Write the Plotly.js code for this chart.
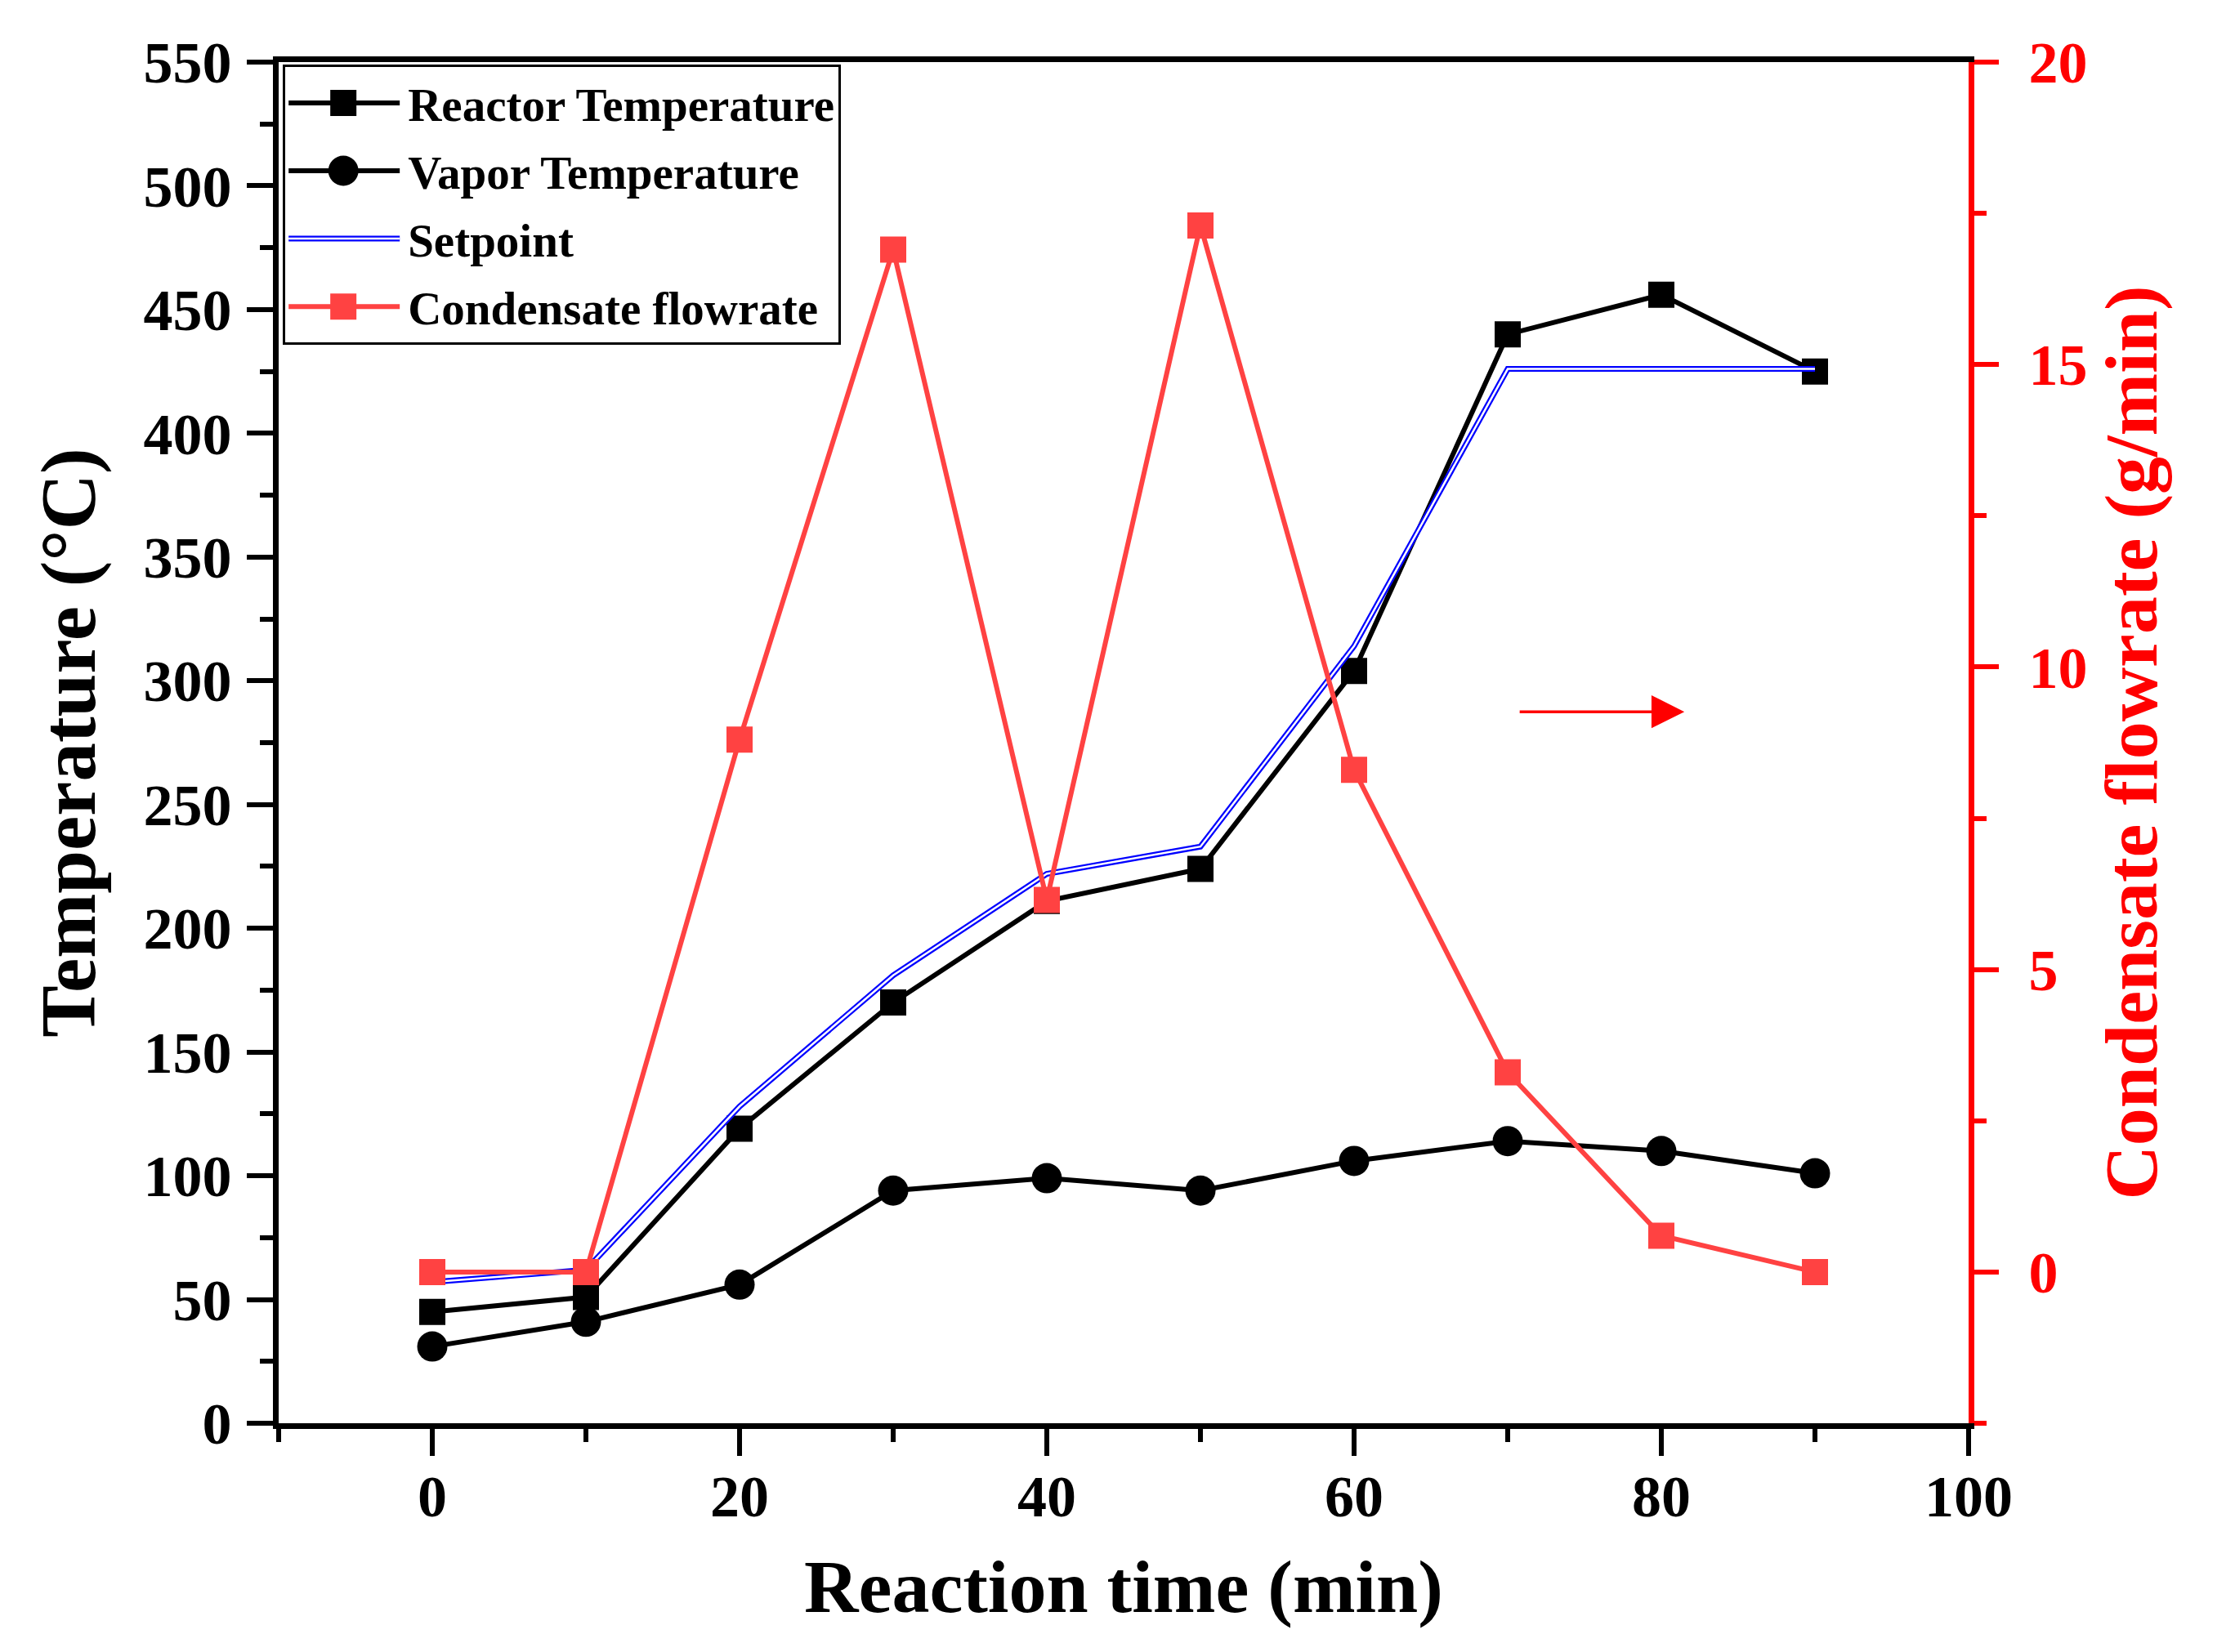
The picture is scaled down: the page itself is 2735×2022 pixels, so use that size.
<!DOCTYPE html>
<html>
<head>
<meta charset="utf-8">
<script src="https://cdn.plot.ly/plotly-3.0.1.min.js"></script>
<style>
  body { margin: 0; background: #fff; }
  #chart { width: 2735px; height: 2022px; }
</style>
</head>
<body>
<div id="chart"></div>
<script>
// reaction time (min)
const time = [0, 10, 20, 30, 40, 50, 60, 70, 80, 90];

// temperatures (°C), left axis
const reactorTemp = [45, 51, 119, 170, 211, 224, 304, 440, 456, 425];
const vaporTemp = [31, 41, 56, 94, 99, 94, 106, 114, 110, 101];
const setpoint = [57, 62, 128, 181, 222, 233, 314, 426, 426, 426];

// condensate flowrate (g/min), right axis
const condensate = [0, 0, 8.8, 16.9, 6.15, 17.3, 8.3, 3.3, 0.6, 0];

const serif = 'Liberation Serif, Times New Roman, serif';
const red = '#ff0000';
const lightRed = '#ff4242';

const traces = [
  {
    x: time, y: reactorTemp, name: 'Reactor Temperature',
    type: 'scatter', mode: 'lines+markers', legendgroup: 'a',
    line: {color: '#000', width: 6},
    marker: {symbol: 'square', size: 32, color: '#000'}
  },
  {
    x: time, y: vaporTemp, name: 'Vapor Temperature',
    type: 'scatter', mode: 'lines+markers', legendgroup: 'b',
    line: {color: '#000', width: 6},
    marker: {symbol: 'circle', size: 37, color: '#000'}
  },
  {
    x: time, y: setpoint, name: 'Setpoint',
    type: 'scatter', mode: 'lines', legendgroup: 'c',
    line: {color: '#0000ff', width: 7}
  },
  {
    // white core turns the setpoint into a double line
    x: time, y: setpoint, name: 'Setpoint',
    type: 'scatter', mode: 'lines', legendgroup: 'c', showlegend: false,
    hoverinfo: 'skip',
    line: {color: '#ffffff', width: 2.5}
  },
  {
    x: time, y: condensate, name: 'Condensate flowrate', yaxis: 'y2',
    type: 'scatter', mode: 'lines+markers', legendgroup: 'd',
    line: {color: lightRed, width: 6},
    marker: {symbol: 'square', size: 32, color: lightRed}
  }
];

const layout = {
  width: 2735,
  height: 2022,
  margin: {l: 341, r: 326, t: 76, b: 280},
  paper_bgcolor: '#fff',
  plot_bgcolor: '#fff',
  font: {family: serif, size: 72, color: '#000', weight: 'bold'},
  showlegend: true,
  legend: {
    x: 0.0025, y: 0.998, xanchor: 'left', yanchor: 'top',
    bgcolor: '#fff', bordercolor: '#000', borderwidth: 3,
    font: {family: serif, size: 57, color: '#000', weight: 'bold'},
    tracegroupgap: 6,
    itemwidth: 140
  },
  xaxis: {
    range: [-10, 100], tick0: 0, dtick: 20,
    ticks: 'outside', ticklen: 33, tickwidth: 6, tickcolor: '#000',
    minor: {dtick: 10, ticks: 'outside', ticklen: 16, tickwidth: 6, tickcolor: '#000'},
    showline: true, linecolor: '#000', linewidth: 7, mirror: true,
    showgrid: false, zeroline: false,
    ticklabelstandoff: -12,
    tickfont: {family: serif, size: 72, color: '#000', weight: 'bold'},
    title: {text: 'Reaction time (min)', standoff: 40,
            font: {family: serif, size: 92, color: '#000', weight: 'bold'}}
  },
  yaxis: {
    range: [0, 550], tick0: 0, dtick: 50,
    ticks: 'outside', ticklen: 32, tickwidth: 6, tickcolor: '#000',
    minor: {dtick: 25, ticks: 'outside', ticklen: 16, tickwidth: 6, tickcolor: '#000'},
    showline: true, linecolor: '#000', linewidth: 7,
    showgrid: false, zeroline: false,
    ticklabelstandoff: 4,
    tickfont: {family: serif, size: 72, color: '#000', weight: 'bold'},
    title: {text: 'Temperature (°C)', standoff: 30,
            font: {family: serif, size: 95, color: '#000', weight: 'bold'}}
  },
  yaxis2: {
    overlaying: 'y', side: 'right',
    range: [-2.5, 20], tick0: 0, dtick: 5,
    ticks: 'outside', ticklen: 30, tickwidth: 6, tickcolor: red,
    minor: {dtick: 2.5, ticks: 'outside', ticklen: 15, tickwidth: 6, tickcolor: red},
    showline: true, linecolor: red, linewidth: 7,
    showgrid: false, zeroline: false,
    ticklabelstandoff: 22,
    tickfont: {family: serif, size: 72, color: red, weight: 'bold'},
    title: {text: 'Condensate flowrate (g/min)', standoff: 24,
            font: {family: serif, size: 92, color: red, weight: 'bold'}}
  },
  annotations: [
    {
      // arrow pointing to the right-hand axis
      x: 81.5, y: 287.5, xref: 'x', yref: 'y',
      ax: 70.7, ay: 287.5, axref: 'x', ayref: 'y',
      text: '', showarrow: true,
      arrowcolor: red, arrowwidth: 3.5, arrowhead: 2, arrowsize: 2.3
    }
  ]
};

Plotly.newPlot('chart', traces, layout, {staticPlot: true}).then(function (gd) {
  // legend symbols are capped in size by plotly; stretch them to match the figure
  const items = gd.querySelectorAll('.legend .traces');
  items.forEach(function (item) {
    const text = item.querySelector('text.legendtext');
    const tx = parseFloat(text.getAttribute('x'));
    const name = text.textContent;
    const line = item.querySelector('path.js-line');
    const mid = (tx - 8) / 2;
    if (line) {
      line.setAttribute('d', 'M4,0h' + (tx - 14));
      if (name === 'Setpoint') {
        const core = line.cloneNode();
        core.style.stroke = '#fff';
        core.style.strokeWidth = '2.5px';
        line.parentNode.appendChild(core);
      }
    }
    const trace = gd.data.find(t => t.name === name && t.showlegend !== false);
    item.querySelectorAll('path.scatterpts').forEach(function (p) {
      const k = trace.marker ? trace.marker.size / 16 : 1;
      p.setAttribute('transform', 'translate(' + mid + ',0) scale(' + k + ')');
    });
  });
});
</script>
</body>
</html>
